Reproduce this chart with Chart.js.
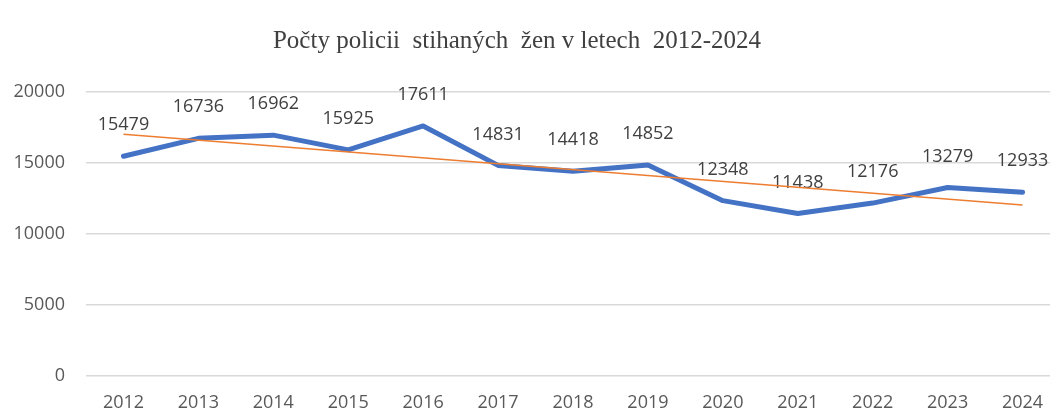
<!DOCTYPE html>
<html>
<head>
<meta charset="utf-8">
<script src="https://cdn.jsdelivr.net/npm/chart.js@4"></script>
<style>
    body { margin: 0; overflow: hidden; background: #fff; }
    #wrap { width: 1062px; height: 414px; }
</style>
</head>
<body>
<div id="wrap"><canvas id="chart"></canvas></div>
<script>
// Data
const years = ['2012', '2013', '2014', '2015', '2016', '2017', '2018', '2019', '2020', '2021', '2022', '2023', '2024'];
const counts = [15479, 16736, 16962, 15925, 17611, 14831, 14418, 14852, 12348, 11438, 12176, 13279, 12933];
// trend line: only the two end points are drawn, the gaps are spanned
const trend = [17030, null, null, null, null, null, null, null, null, null, null, null, 12040];
const yTicks = [0, 5000, 10000, 15000, 20000];
const titleText = 'Počty policii  stihaných  žen v letech  2012-2024';

// Value labels above the blue line
const valueLabels = {
    id: 'valueLabels',
    afterDatasetDraw(chart, args) {
        if (args.index !== 0) return;
        const ctx = chart.ctx;
        ctx.save();
        ctx.font = '18px "Open Sans"';
        ctx.fillStyle = '#404040';
        ctx.textAlign = 'center';
        ctx.textBaseline = 'middle';
        args.meta.data.forEach((pt, i) => {
            ctx.fillText(String(counts[i]), pt.x, pt.y - 31);
        });
        ctx.restore();
    }
};

// Title drawn by hand so it sits centred on the visible window, not the wider canvas
const chartTitle = {
    id: 'chartTitle',
    afterDraw(chart) {
        const ctx = chart.ctx;
        ctx.save();
        ctx.font = '25px "Liberation Serif"';
        ctx.fillStyle = '#404040';
        ctx.textAlign = 'center';
        ctx.textBaseline = 'alphabetic';
        ctx.fillText(titleText, 517, 48);
        ctx.restore();
    }
};

new Chart(document.getElementById('chart'), {
    type: 'line',
    data: {
        labels: years,
        datasets: [{
            label: 'Počet',
            data: counts,
            borderColor: '#4472C4',
            borderWidth: 5,
            borderCapStyle: 'round',
            borderJoinStyle: 'round',
            pointRadius: 0,
            tension: 0,
            order: 2
        }, {
            label: 'Trend',
            data: trend,
            borderColor: '#ED7D31',
            borderWidth: 1.5,
            pointRadius: 0,
            spanGaps: true,
            order: 1
        }]
    },
    options: {
        responsive: true,
        maintainAspectRatio: false,
        animation: false,
        layout: { padding: { right: 2, left: 0, top: 92, bottom: 0 } },
        plugins: {
            legend: { display: false },
            tooltip: { enabled: false },
            title: { display: false }
        },
        scales: {
            x: {
                offset: true,
                afterFit(scale) { scale.height = 38; },
                grid: { display: false, drawTicks: false },
                border: { display: false },
                ticks: {
                    color: '#595959',
                    font: { family: '"Open Sans"', size: 18 },
                    padding: 16,
                    maxRotation: 0
                }
            },
            y: {
                min: 0,
                max: 20000,
                afterFit(scale) { scale.width = 86; },
                afterBuildTicks(scale) { scale.ticks = yTicks.map(v => ({ value: v })); },
                grid: { color: '#d9d9d9', lineWidth: 1.5, drawTicks: false },
                border: { display: false },
                ticks: {
                    color: '#595959',
                    font: { family: '"Open Sans"', size: 18 },
                    padding: 21,
                    callback: v => String(v)
                }
            }
        }
    },
    plugins: [valueLabels, chartTitle]
});
</script>
</body>
</html>
